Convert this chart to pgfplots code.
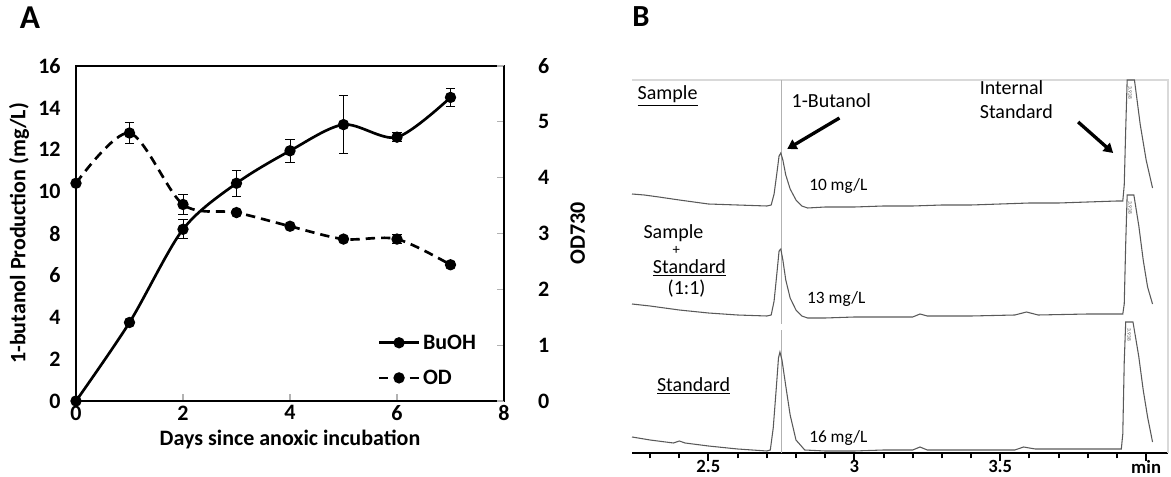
\documentclass[border=0pt]{standalone}
\usepackage{pgfplots}
\pgfplotsset{compat=1.18}
\usetikzlibrary{arrows.meta}
\usepackage{fontspec}
\setmainfont{Carlito}
\begin{document}
\begin{tikzpicture}
\useasboundingbox (0,0) rectangle (878.25pt,-357.75pt);
\node[font=\bfseries\fontsize{25}{28}\selectfont] at (22.5pt,-13.5pt) {A};
\node[font=\bfseries\fontsize{23}{26}\selectfont] at (480.75pt,-12.75pt) {B};

% ---------------- Panel A, left axis ----------------
\begin{axis}[
  at={(57pt,-300.75pt)}, anchor=south west,
  scale only axis, width=321pt, height=251.25pt,
  xmin=0, xmax=8, ymin=0, ymax=16,
  xtick={0,2,...,8}, ytick={0,2,...,16},
  axis line style={line width=1.5pt},
  tick align=inside, major tick length=5pt,
  xtick pos=bottom, ytick pos=left,
  xtick style={gray!60, line width=0.8pt},
  ytick style={draw=none},
  /pgf/number format/assume math mode=true,
  tick label style={font=\bfseries\fontsize{16.5}{19}\selectfont},
  yticklabel style={xshift=-8pt},
  xlabel={Days since anoxic incubation},
  ylabel={1-butanol Production (mg/L)},
  label style={font=\bfseries\fontsize{16.5}{19}\selectfont},
]
\addplot[black, line width=2pt, smooth, mark=*, mark size=3.2pt, mark options={solid},
  error bars/.cd, y dir=both, y explicit,
  error bar style={line width=0.7pt, black, solid},
  error mark options={rotate=90, mark size=3.5pt, line width=0.7pt}]
  table[x=x, y=y, y error=e] {
  x y e
  0 0 0
  1 3.75 0
  2 8.2 0.45
  3 10.4 0.62
  4 11.95 0.55
  5 13.2 1.4
  6 12.6 0.22
  7 14.5 0.45
  };
\end{axis}

% ---------------- Panel A, right axis ----------------
\begin{axis}[
  at={(57pt,-300.75pt)}, anchor=south west,
  scale only axis, width=321pt, height=251.25pt,
  xmin=0, xmax=8, ymin=0, ymax=6,
  axis x line=none, axis y line*=right,
  ytick={0,1,...,6},
  y axis line style={line width=1.5pt},
  tick align=inside, major tick length=5pt,
  ytick style={gray!60, line width=0.8pt},
  /pgf/number format/assume math mode=true,
  tick label style={font=\bfseries\fontsize{16.5}{19}\selectfont},
  yticklabel style={xshift=22pt},
  ylabel={OD730},
  ylabel style={font=\bfseries\fontsize{16.5}{19}\selectfont, yshift=-9pt},
  legend style={at={(0.695,0.215)}, anchor=north west, draw=none, fill=none,
    font=\bfseries\fontsize{16.5}{19}\selectfont, row sep=10pt},
  legend cell align=left,
  legend image code/.code={\draw[mark repeat=2, mark phase=2, #1] plot coordinates {(0pt,0pt) (15pt,0pt) (30pt,0pt)};},
]
\addlegendimage{black, line width=2pt, mark=*, mark size=3.2pt, mark options={solid}}
\addlegendentry{BuOH}
\addplot[black, line width=2pt, dash pattern=on 7pt off 4.5pt, smooth, mark=*, mark size=3.2pt, mark options={solid},
  error bars/.cd, y dir=both, y explicit,
  error bar style={line width=0.7pt, black, solid},
  error mark options={rotate=90, mark size=3.5pt, line width=0.7pt}]
  table[x=x, y=y, y error=e] {
  x y e
  0 3.9 0
  1 4.8 0.18
  2 3.52 0.18
  3 3.375 0
  4 3.13 0.03
  5 2.9 0
  6 2.9 0.08
  7 2.44 0
  };
\addlegendentry{OD}
\end{axis}

% ---------------- Panel B ----------------
\begin{axis}[
  at={(474pt,-339.75pt)}, anchor=south west,
  scale only axis, width=402pt, height=279.75pt,
  xmin=2.238, xmax=4.075, ymin=-3, ymax=370,
  clip=false,
  axis x line*=bottom, axis y line=none,
  x axis line style={line width=2pt},
  xtick={2.5,3,3.5,4}, xticklabels={2.5,3,3.5,min},
  minor xtick={2.3,2.4,2.6,2.7,2.8,2.9,3.1,3.2,3.3,3.4,3.6,3.7,3.8,3.9},
  tick align=outside, major tick length=6pt, minor tick length=4pt,
  tick style={black, line width=1.5pt},
  xticklabel style={font=\bfseries\fontsize{14}{16}\selectfont, inner sep=1pt, yshift=1.5pt},
]
\draw[gray!30, line width=1pt] (rel axis cs:0,1) -- (rel axis cs:1,1) -- (rel axis cs:1,0);
% peak marker lines
\addplot[gray!60, line width=0.7pt] coordinates {(2.75,237) (2.75,370)};
\addplot[gray!60, line width=0.7pt] coordinates {(2.75,126) (2.75,252)};
\addplot[gray!60, line width=0.7pt] coordinates {(2.75,-3) (2.75,120)};
% trace 1: Sample
\addplot[gray!70!black, line width=0.8pt] coordinates {
(2.238,256) (2.28,255) (2.33,253) (2.40,250) (2.45,248) (2.50,246) (2.60,245) (2.70,244)
(2.715,245) (2.725,256) (2.735,278) (2.742,294) (2.748,297) (2.755,290) (2.765,275) (2.78,261)
(2.80,250) (2.82,244) (2.84,242) (2.9,243) (3.0,243) (3.1,244) (3.2,244) (3.3,245) (3.4,245)
(3.5,246) (3.6,247) (3.7,247) (3.8,248) (3.9,249) (3.92,249) (3.925,265) (3.93,320) (3.935,370)
(3.96,370) (3.98,325) (4.0,290) (4.022,262)};
% trace 2: Sample + Standard
\addplot[gray!70!black, line width=0.8pt] coordinates {
(2.238,146) (2.3,144) (2.4,140) (2.5,137) (2.6,135) (2.7,134) (2.715,135) (2.725,149) (2.735,178)
(2.742,199) (2.748,201) (2.755,190) (2.765,170) (2.78,152) (2.80,140) (2.82,134) (2.84,132)
(2.9,132) (3.0,133) (3.1,133) (3.2,133) (3.225,136) (3.25,134) (3.4,134) (3.55,135) (3.59,138)
(3.63,135) (3.8,136) (3.92,136) (3.925,146) (3.93,206) (3.935,255) (3.958,255) (3.975,224)
(3.99,190) (4.005,163) (4.022,146)};
% trace 3: Standard
\addplot[gray!70!black, line width=0.8pt] coordinates {
(2.238,13) (2.3,10) (2.38,7) (2.40,9) (2.42,7) (2.5,4) (2.6,1) (2.7,-1) (2.712,0) (2.722,22)
(2.732,60) (2.740,92) (2.745,98) (2.752,90) (2.765,64) (2.78,35) (2.80,10) (2.83,0) (2.9,-1)
(3.0,-1) (3.1,0) (3.2,0) (3.225,3) (3.25,0) (3.4,0) (3.55,0) (3.58,3) (3.62,1) (3.8,1)
(3.915,1) (3.92,16) (3.925,88) (3.93,128) (3.955,128) (3.975,93) (3.99,60) (4.005,33) (4.022,8)};
% tiny retention-time labels
\node[rotate=-90, font=\fontsize{4}{4}\selectfont, gray!60!black, anchor=west] at (axis cs:3.945,368) {3.938};
\node[rotate=-90, font=\fontsize{4}{4}\selectfont, gray!60!black, anchor=west] at (axis cs:3.945,253) {3.938};
\node[rotate=-90, font=\fontsize{4}{4}\selectfont, gray!60!black, anchor=west] at (axis cs:3.942,126) {3.938};
% annotations
\begin{scope}[font=\fontsize{15}{18}\selectfont]
\node at (axis cs:2.36,354) {\underline{Sample}};
\node at (axis cs:2.921,349) {1-Butanol};
\node[align=left, anchor=west] at (axis cs:3.414,350) {Internal\\Standard};
\node at (axis cs:2.38,217) {Sample};
\node[font=\fontsize{11}{12}\selectfont] at (axis cs:2.39,200) {+};
\node at (axis cs:2.435,182) {\underline{Standard}};
\node at (axis cs:2.425,161) {(1:1)};
\node at (axis cs:2.449,64) {\underline{Standard}};
\end{scope}
\begin{scope}[font=\fontsize{13}{15}\selectfont]
\node at (axis cs:2.945,264) {10 mg/L};
\node at (axis cs:2.938,151) {13 mg/L};
\node at (axis cs:2.945,12) {16 mg/L};
\end{scope}
\draw[-{Triangle[width=8pt,length=7pt]}, line width=2.5pt] (axis cs:2.949,332) -- (axis cs:2.77,301);
\draw[-{Triangle[width=8pt,length=7pt]}, line width=2.5pt] (axis cs:3.767,328) -- (axis cs:3.887,297);
\end{axis}
\end{tikzpicture}
\end{document}
